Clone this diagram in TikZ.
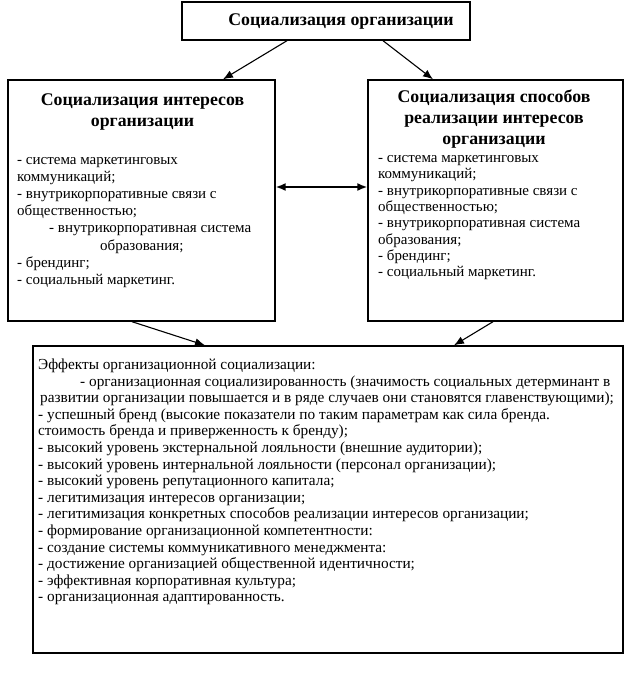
\documentclass[tikz,border=0pt]{standalone}
\usepackage{fontspec}
\setmainfont{Liberation Serif}
\usepackage{tikz}
\usetikzlibrary{arrows.meta,positioning,calc}
\tikzset{frame/.style={draw,line width=1.4pt,inner sep=0pt,minimum width=#1},
  headtext/.style={font=\fontsize{17.8}{21}\selectfont\bfseries,align=center,inner sep=0pt,anchor=base},
  listtext/.style={font=\fontsize{15.3}{16.6}\selectfont,align=left,inner sep=0pt,anchor=base west},
  link/.style={-{Latex[length=10pt,width=8pt]},line width=1.1pt}}
\begin{document}
\begin{tikzpicture}[x=1pt,y=-1pt]
\useasboundingbox (0,0) rectangle (632,679);
% boxes
\node[frame=288pt,minimum height=38pt] (org) at (326,21) {};
\node[frame=267pt,minimum height=241pt] (interests) at (141.5,200.5) {};
\node[frame=255pt,minimum height=241pt] (ways) at (495.5,200.5) {};
\node[frame=590pt,minimum height=307pt] (effects) at (328,499.5) {};
% titles (placed at the baseline of their last line)
\node[headtext] (orgtitle) at (341,25.5) {Социализация организации};
\node[headtext] (intitle) at (142.5,126.5) {Социализация интересов\\организации};
\node[headtext] (waytitle) at (494,144.5) {Социализация способов\\реализации интересов\\организации};
% lists
\node[listtext,font=\fontsize{15}{17.1}\selectfont] (inlist) at (17,284.2) {- система маркетинговых\\коммуникаций;\\- внутрикорпоративные связи с\\общественностью;\\\hspace*{32pt}- внутрикорпоративная система\\\hspace*{83pt}образования;\\- брендинг;\\- социальный маркетинг.};
\node[listtext,font=\fontsize{15}{16.3}\selectfont] (waylist) at (378,276.6) {- система маркетинговых\\коммуникаций;\\- внутрикорпоративные связи с\\общественностью;\\- внутрикорпоративная система\\образования;\\- брендинг;\\- социальный маркетинг.};
\node[listtext] (efflist) at (38,601.9) {Эффекты организационной социализации:\\
\hspace*{42pt}- организационная социализированность (значимость социальных детерминант в\\
\hspace*{2pt}развитии организации повышается и в ряде случаев они становятся главенствующими);\\
- успешный бренд (высокие показатели по таким параметрам как сила бренда.\\
стоимость бренда и приверженность к бренду);\\
- высокий уровень экстернальной лояльности (внешние аудитории);\\
- высокий уровень интернальной лояльности (персонал организации);\\
- высокий уровень репутационного капитала;\\
- легитимизация интересов организации;\\
- легитимизация конкретных способов реализации интересов организации;\\
- формирование организационной компетентности:\\
- создание системы коммуникативного менеджмента:\\
- достижение организацией общественной идентичности;\\
- эффективная корпоративная культура;\\
- организационная адаптированность.};
% connectors
\draw[link] ([xshift=-39pt]org.south) -- ([xshift=81.5pt]interests.north);
\draw[link] ([xshift=57pt]org.south) -- ([xshift=-62.5pt]ways.north);
\draw[link,{Latex[length=10pt,width=8pt]}-{Latex[length=10pt,width=8pt]},line width=1.6pt] ([yshift=13.5pt]interests.east) -- ([yshift=13.5pt]ways.west);
\draw[link] ([xshift=-9.5pt]interests.south) -- ([xshift=-123pt]effects.north);
\draw[link] ([xshift=-2.5pt]ways.south) -- ([xshift=126pt]effects.north);
\end{tikzpicture}
\end{document}
